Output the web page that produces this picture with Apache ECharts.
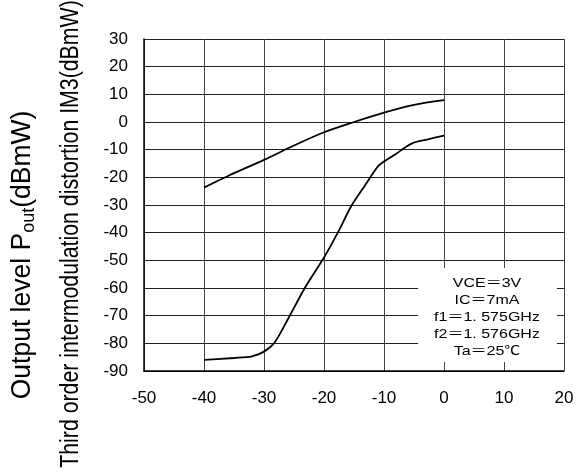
<!DOCTYPE html>
<html>
<head>
<meta charset="utf-8">
<script src="https://cdn.jsdelivr.net/npm/echarts@6/dist/echarts.min.js"></script>
<style>
html,body{margin:0;padding:0;background:#fff;}
#chart{width:585px;height:475px;}
</style>
</head>
<body>
<div id="chart"></div>
<script>
// Input power (dBmW) vs output level
const poutX = [-40, -36, -30, -25, -20, -15, -10, -5, 0];
const poutY = [-23.7, -19.5, -13.7, -8.5, -3.7, 0, 3.4, 6.2, 7.9];
const im3X = [-40, -35, -32, -30, -28.2, -26, -23.2, -20, -17.7, -15.4, -13.2, -11, -10, -8.2, -5.4, -2.7, 0];
const im3Y = [-86, -85.3, -84.7, -83, -79.6, -71.2, -60, -49, -40, -30.2, -23, -16, -14.3, -11.8, -7.8, -6.3, -4.9];
const xTicks = [-50, -40, -30, -20, -10, 0, 10, 20];
const yTicks = [-90, -80, -70, -60, -50, -40, -30, -20, -10, 0, 10, 20, 30];
const noteLines = ['VCE＝3V', 'IC＝7mA', 'f1＝1. 575GHz', 'f2＝1. 576GHz', 'Ta＝25℃'];
const yTitleMain = 'Output level P';
const yTitleSub = 'out';
const yTitleUnit = '(dBmW)';
const yTitle2 = 'Third order intermodulation distortion IM3(dBmW)';

const pair = (xs, ys) => xs.map((x, i) => [x, ys[i]]);
const FONT = "'Liberation Sans', Arial, sans-serif";

const chart = echarts.init(document.getElementById('chart'));
chart.setOption({
  animation: false,
  backgroundColor: '#fff',
  grid: { left: 144, right: 21, top: 39, bottom: 104 },
  xAxis: {
    type: 'value',
    min: xTicks[0], max: xTicks[xTicks.length - 1], interval: 10,
    axisLine: { onZero: false, lineStyle: { color: '#000', width: 1.5 } },
    axisTick: { show: false },
    splitLine: { show: true, lineStyle: { color: '#444', width: 1 } },
    axisLabel: { color: '#000', fontSize: 17, fontFamily: FONT, margin: 19 }
  },
  yAxis: {
    type: 'value',
    min: yTicks[0], max: yTicks[yTicks.length - 1], interval: 10,
    axisLine: { onZero: false, lineStyle: { color: '#000', width: 1.5 } },
    axisTick: { show: false },
    splitLine: { show: true, lineStyle: { color: '#222', width: 1 } },
    axisLabel: { color: '#000', fontSize: 17, fontFamily: FONT, margin: 16 }
  },
  series: [
    {
      type: 'line', data: pair(poutX, poutY), smooth: 0.3, symbol: 'none',
      lineStyle: { color: '#000', width: 1.8 }, z: 5
    },
    {
      type: 'line', data: pair(im3X, im3Y), smooth: 0.3, symbol: 'none',
      lineStyle: { color: '#000', width: 1.8 }, z: 5
    }
  ],
  graphic: [
    {
      type: 'rect', z: 10,
      shape: { x: 418, y: 268, width: 139, height: 94 },
      style: { fill: '#fff' }
    },
    {
      type: 'text', z: 11, x: 487, y: 275.5, scaleX: 1.28,
      style: {
        text: noteLines.join('\n'),
        x: 0, y: 0,
        textAlign: 'center',
        font: "12.5px 'Liberation Sans', 'Noto Sans CJK JP', sans-serif",
        lineHeight: 17,
        fill: '#000'
      }
    },
    {
      type: 'text', z: 11, x: 22, y: 255, rotation: Math.PI / 2, scaleY: 1.05,
      style: {
        text: '{m|' + yTitleMain + '}{s|' + yTitleSub + '}{m|' + yTitleUnit + '}',
        textAlign: 'center', textVerticalAlign: 'middle',
        rich: {
          m: { fontSize: 26.5, fontFamily: FONT, fill: '#000', color: '#000' },
          s: { fontSize: 18, fontFamily: FONT, fill: '#000', color: '#000', padding: [12, 0, 0, 0] }
        }
      }
    },
    {
      type: 'text', z: 11, x: 71, y: 234, rotation: Math.PI / 2, scaleY: 1.22,
      style: {
        text: yTitle2,
        textAlign: 'center', textVerticalAlign: 'middle',
        font: "21.3px 'Liberation Sans', Arial, sans-serif",
        fill: '#000'
      }
    }
  ]
});
</script>
</body>
</html>
